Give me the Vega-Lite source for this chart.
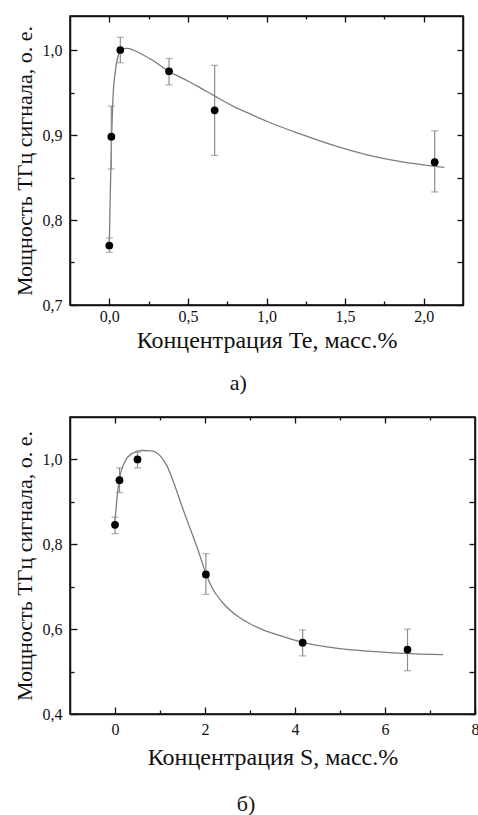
{
  "$schema": "https://vega.github.io/schema/vega-lite/v6.json",
  "padding": {"left": 12, "top": 14, "right": 4, "bottom": 0},
  "spacing": 20,
  "background": "white",
  "config": {
    "font": "Liberation Serif",
    "view": {"stroke": "#000", "strokeWidth": 1.5},
    "axis": {"grid": false, "labelFlush": false, "labelOverlap": false}
  },
  "datasets": {
    "tePts": [
      {"x": 0.0, "y": 0.770, "lo": 0.762, "hi": 0.779},
      {"x": 0.013, "y": 0.898, "lo": 0.860, "hi": 0.934},
      {"x": 0.07, "y": 1.000, "lo": 0.985, "hi": 1.015},
      {"x": 0.38, "y": 0.975, "lo": 0.959, "hi": 0.990},
      {"x": 0.67, "y": 0.929, "lo": 0.876, "hi": 0.982},
      {"x": 2.07, "y": 0.868, "lo": 0.833, "hi": 0.905}
    ],
    "teCurve": [
      {"x": 0.0, "y": 0.770},
      {"x": 0.004, "y": 0.810},
      {"x": 0.008, "y": 0.845},
      {"x": 0.0146, "y": 0.897},
      {"x": 0.023, "y": 0.943},
      {"x": 0.038, "y": 0.974},
      {"x": 0.055, "y": 0.992},
      {"x": 0.087, "y": 1.0015},
      {"x": 0.118, "y": 1.002},
      {"x": 0.15, "y": 1.0},
      {"x": 0.256, "y": 0.990},
      {"x": 0.379, "y": 0.975},
      {"x": 0.5, "y": 0.9635},
      {"x": 0.574, "y": 0.956},
      {"x": 0.669, "y": 0.946},
      {"x": 0.786, "y": 0.934},
      {"x": 0.9, "y": 0.9245},
      {"x": 0.998, "y": 0.9165},
      {"x": 1.21, "y": 0.9015},
      {"x": 1.422, "y": 0.888},
      {"x": 1.633, "y": 0.877},
      {"x": 1.845, "y": 0.869},
      {"x": 2.057, "y": 0.8635},
      {"x": 2.131, "y": 0.862}
    ],
    "sPts": [
      {"x": 0.0, "y": 0.846, "lo": 0.825, "hi": 0.864},
      {"x": 0.1, "y": 0.951, "lo": 0.922, "hi": 0.980},
      {"x": 0.5, "y": 1.000, "lo": 0.980, "hi": 1.017},
      {"x": 2.02, "y": 0.729, "lo": 0.682, "hi": 0.778},
      {"x": 4.17, "y": 0.568, "lo": 0.537, "hi": 0.598},
      {"x": 6.5, "y": 0.552, "lo": 0.502, "hi": 0.600}
    ],
    "sCurve": [
      {"x": 0.0, "y": 0.855},
      {"x": 0.067, "y": 0.931},
      {"x": 0.10, "y": 0.955},
      {"x": 0.215, "y": 0.994},
      {"x": 0.365, "y": 1.013},
      {"x": 0.59, "y": 1.021},
      {"x": 0.81, "y": 1.020},
      {"x": 1.0, "y": 1.009},
      {"x": 1.15, "y": 0.986},
      {"x": 1.30, "y": 0.947},
      {"x": 1.48, "y": 0.892},
      {"x": 1.67, "y": 0.837},
      {"x": 1.86, "y": 0.782},
      {"x": 2.02, "y": 0.731},
      {"x": 2.16, "y": 0.697},
      {"x": 2.38, "y": 0.664},
      {"x": 2.68, "y": 0.634},
      {"x": 2.98, "y": 0.614},
      {"x": 3.28, "y": 0.599},
      {"x": 3.6, "y": 0.587},
      {"x": 4.17, "y": 0.569},
      {"x": 4.7, "y": 0.558},
      {"x": 5.29, "y": 0.551},
      {"x": 6.41, "y": 0.543},
      {"x": 7.29, "y": 0.540}
    ]
  },
  "vconcat": [
    {
      "width": 393,
      "height": 289,
      "title": {"text": "а)", "orient": "bottom", "anchor": "middle", "frame": "bounds", "offset": 21, "font": "Liberation Serif", "fontSize": 22, "fontWeight": "normal", "color": "#111"},
      "layer": [
        {
          "data": {"name": "teCurve"},
          "mark": {"type": "line", "color": "#7d7d7d", "strokeWidth": 1.3, "interpolate": "monotone"},
          "encoding": {
            "x": {"field": "x", "type": "quantitative", "scale": {"domain": [-0.25, 2.25], "nice": false, "zero": false},
              "axis": {"orient": "bottom", "title": "Концентрация Te, масс.%", "values": [0, 0.25, 0.5, 0.75, 1, 1.25, 1.5, 1.75, 2],
                "labelExpr": "datum.value % 0.5 == 0 ? replace(format(datum.value, '.1f'), '.', ',') : ''",
                "tickSize": {"condition": {"test": "datum.value % 0.5 == 0", "value": -7}, "value": -4},
                "labelPadding": 10, "titlePadding": 1,
                "labelFont": "Liberation Serif", "labelFontSize": 16, "labelColor": "#111",
                "titleFont": "Liberation Serif", "titleFontSize": 24, "titleFontWeight": "normal", "titleColor": "#111",
                "tickColor": "#111", "tickWidth": 1.3, "domainColor": "#111", "domainWidth": 1.5, "grid": false}},
            "y": {"field": "y", "type": "quantitative", "scale": {"domain": [0.7, 1.04], "nice": false, "zero": false},
              "axis": {"orient": "left", "title": "Мощность ТГц сигнала, о. е.", "values": [0.7, 0.75, 0.8, 0.85, 0.9, 0.95, 1.0],
                "labelExpr": "abs(datum.value*10 - round(datum.value*10)) < 0.01 ? replace(format(datum.value, '.1f'), '.', ',') : ''",
                "tickSize": {"condition": {"test": "abs(datum.value*10 - round(datum.value*10)) < 0.01", "value": -7}, "value": -4},
                "labelPadding": 15, "titlePadding": 6,
                "labelFont": "Liberation Serif", "labelFontSize": 16, "labelColor": "#111",
                "titleFont": "Liberation Serif", "titleFontSize": 22, "titleFontWeight": "normal", "titleColor": "#111",
                "tickColor": "#111", "tickWidth": 1.3, "domainColor": "#111", "domainWidth": 1.5, "grid": false}}
          }
        },
        {
          "data": {"name": "tePts"},
          "mark": {"type": "rule", "color": "#8c8c8c", "strokeWidth": 1.2},
          "encoding": {
            "x": {"field": "x", "type": "quantitative",
              "axis": {"orient": "top", "title": null, "labels": false, "values": [0, 0.25, 0.5, 0.75, 1, 1.25, 1.5, 1.75, 2],
                "tickSize": {"condition": {"test": "datum.value % 0.5 == 0", "value": -6}, "value": -3},
                "tickColor": "#111", "tickWidth": 1.3, "domainColor": "#111", "domainWidth": 1.5, "grid": false}},
            "y": {"field": "lo", "type": "quantitative",
              "axis": {"orient": "right", "title": null, "labels": false, "values": [0.7, 0.75, 0.8, 0.85, 0.9, 0.95, 1.0], "tickSize": -6,
                "tickColor": "#111", "tickWidth": 1.3, "domainColor": "#111", "domainWidth": 1.5, "grid": false}},
            "y2": {"field": "hi"}
          }
        },
        {
          "data": {"name": "tePts"},
          "mark": {"type": "tick", "orient": "horizontal", "color": "#8c8c8c", "size": 7, "thickness": 1.2},
          "encoding": {
            "x": {"field": "x", "type": "quantitative", "axis": null},
            "y": {"field": "lo", "type": "quantitative", "axis": null}
          }
        },
        {
          "data": {"name": "tePts"},
          "mark": {"type": "tick", "orient": "horizontal", "color": "#8c8c8c", "size": 7, "thickness": 1.2},
          "encoding": {
            "x": {"field": "x", "type": "quantitative", "axis": null},
            "y": {"field": "hi", "type": "quantitative", "axis": null}
          }
        },
        {
          "data": {"name": "tePts"},
          "mark": {"type": "circle", "color": "#000", "size": 60, "opacity": 1},
          "encoding": {
            "x": {"field": "x", "type": "quantitative", "axis": null},
            "y": {"field": "y", "type": "quantitative", "axis": null}
          }
        }
      ]
    },
    {
      "width": 405,
      "height": 297,
      "title": {"text": "б)", "orient": "bottom", "anchor": "middle", "frame": "bounds", "offset": 25, "font": "Liberation Serif", "fontSize": 22, "fontWeight": "normal", "color": "#111"},
      "layer": [
        {
          "data": {"name": "sCurve"},
          "mark": {"type": "line", "color": "#7d7d7d", "strokeWidth": 1.3, "interpolate": "monotone"},
          "encoding": {
            "x": {"field": "x", "type": "quantitative", "scale": {"domain": [-1, 8], "nice": false, "zero": false},
              "axis": {"orient": "bottom", "title": "Концентрация S, масс.%", "values": [0, 1, 2, 3, 4, 5, 6, 7, 8],
                "labelExpr": "datum.value % 2 == 0 ? format(datum.value, 'd') : ''",
                "tickSize": {"condition": {"test": "datum.value % 2 == 0", "value": -7}, "value": -4},
                "labelPadding": 14, "titlePadding": 5,
                "labelFont": "Liberation Serif", "labelFontSize": 16, "labelColor": "#111",
                "titleFont": "Liberation Serif", "titleFontSize": 24, "titleFontWeight": "normal", "titleColor": "#111",
                "tickColor": "#111", "tickWidth": 1.3, "domainColor": "#111", "domainWidth": 1.5, "grid": false}},
            "y": {"field": "y", "type": "quantitative", "scale": {"domain": [0.4, 1.1], "nice": false, "zero": false},
              "axis": {"orient": "left", "title": "Мощность ТГц сигнала, о. е.", "values": [0.4, 0.5, 0.6, 0.7, 0.8, 0.9, 1.0],
                "labelExpr": "round(datum.value*10) % 2 == 0 ? replace(format(datum.value, '.1f'), '.', ',') : ''",
                "tickSize": {"condition": {"test": "round(datum.value*10) % 2 == 0", "value": -7}, "value": -4},
                "labelPadding": 15, "titlePadding": 6,
                "labelFont": "Liberation Serif", "labelFontSize": 16, "labelColor": "#111",
                "titleFont": "Liberation Serif", "titleFontSize": 22, "titleFontWeight": "normal", "titleColor": "#111",
                "tickColor": "#111", "tickWidth": 1.3, "domainColor": "#111", "domainWidth": 1.5, "grid": false}}
          }
        },
        {
          "data": {"name": "sPts"},
          "mark": {"type": "rule", "color": "#8c8c8c", "strokeWidth": 1.2},
          "encoding": {
            "x": {"field": "x", "type": "quantitative",
              "axis": {"orient": "top", "title": null, "labels": false, "values": [0, 1, 2, 3, 4, 5, 6, 7],
                "tickSize": {"condition": {"test": "datum.value % 2 == 0", "value": -6}, "value": -3},
                "tickColor": "#111", "tickWidth": 1.3, "domainColor": "#111", "domainWidth": 1.5, "grid": false}},
            "y": {"field": "lo", "type": "quantitative",
              "axis": {"orient": "right", "title": null, "labels": false, "values": [0.4, 0.5, 0.6, 0.7, 0.8, 0.9, 1.0], "tickSize": -6,
                "tickColor": "#111", "tickWidth": 1.3, "domainColor": "#111", "domainWidth": 1.5, "grid": false}},
            "y2": {"field": "hi"}
          }
        },
        {
          "data": {"name": "sPts"},
          "mark": {"type": "tick", "orient": "horizontal", "color": "#8c8c8c", "size": 7, "thickness": 1.2},
          "encoding": {
            "x": {"field": "x", "type": "quantitative", "axis": null},
            "y": {"field": "lo", "type": "quantitative", "axis": null}
          }
        },
        {
          "data": {"name": "sPts"},
          "mark": {"type": "tick", "orient": "horizontal", "color": "#8c8c8c", "size": 7, "thickness": 1.2},
          "encoding": {
            "x": {"field": "x", "type": "quantitative", "axis": null},
            "y": {"field": "hi", "type": "quantitative", "axis": null}
          }
        },
        {
          "data": {"name": "sPts"},
          "mark": {"type": "circle", "color": "#000", "size": 60, "opacity": 1},
          "encoding": {
            "x": {"field": "x", "type": "quantitative", "axis": null},
            "y": {"field": "y", "type": "quantitative", "axis": null}
          }
        }
      ]
    }
  ]
}
